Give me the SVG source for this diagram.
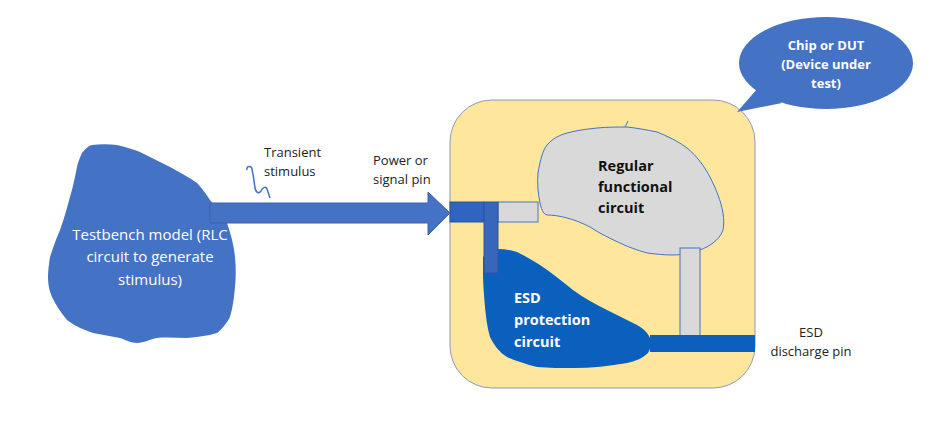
<svg xmlns="http://www.w3.org/2000/svg" width="949" height="432" viewBox="0 0 949 432">
<defs>
<style>
.lbl{font-family:"Open Sans","Liberation Sans",sans-serif;font-size:13px;fill:#222}
.blk{font-family:"Open Sans","Liberation Sans",sans-serif;font-size:14.5px;font-weight:bold;fill:#111}
.wt{font-family:"Open Sans","Liberation Sans",sans-serif;font-size:15px;fill:#fff;text-anchor:middle}
.wb{font-family:"Open Sans","Liberation Sans",sans-serif;font-size:14.5px;font-weight:bold;fill:#fff}
.wbc{font-family:"Open Sans","Liberation Sans",sans-serif;font-size:13px;font-weight:bold;fill:#fff;text-anchor:middle}
.pin{fill:#2f64c0;stroke:#2a55a0;stroke-width:1}
.gray{fill:#d9d9d9;stroke:#4472c4;stroke-width:1}
</style>
</defs>
<rect width="949" height="432" fill="#fff"/>

<g id="testbench">
<path d="M82,153 C85,149 88,146 92,145 C100,144 109,144 117,145 C125,147 133,149 140,152 C150,157 160,162 170,167 C179,172 189,177 197,183 C202,188 206,194 210,200 C216,207 222,215 227,223 C231,234 234,246 235,257 C236,267 236,277 235,287 C234,297 233,307 230,317 C227,323 222,329 217,333 C207,336 197,337 187,338 C177,338 167,337 157,338 C150,339 144,343 137,343 C131,343 126,340 120,338 C111,336 102,335 93,333 C84,330 75,326 67,320 C61,313 56,305 52,297 C49,290 48,284 48,277 C48,270 49,264 50,257 C53,248 56,239 60,230 C64,219 67,208 70,197 C73,187 75,177 77,167 C78,162 80,157 82,153 Z" fill="#4472c4"/>
<text class="wt" x="150" y="240">Testbench model (RLC</text>
<text class="wt" x="150" y="262">circuit to generate</text>
<text class="wt" x="150" y="285">stimulus)</text>
</g>

<g id="connectors">
<path d="M210,203 L428,203 L428,192 L450,213 L428,235 L428,223 L210,223 Z" fill="#4472c4" stroke="#3a62ab" stroke-width="1"/>
<path d="M247,170 C246,166 251,165 252,169 C253,174 254,180 255,188 C256,193 259,194 261,191 C263,187 266,186 267,189 C268,192 269,195 270,198" fill="none" stroke="#4472c4" stroke-width="1.5"/>
</g>

<g id="labels">
<text class="lbl" x="264" y="157">Transient</text>
<text class="lbl" x="264" y="176">stimulus</text>
<text class="lbl" x="373" y="165">Power or</text>
<text class="lbl" x="373" y="184">signal pin</text>
<text class="lbl" x="811" y="337" text-anchor="middle">ESD</text>
<text class="lbl" x="811" y="356" text-anchor="middle">discharge pin</text>
</g>

<g id="chip">
<rect x="450" y="100" width="305" height="288" rx="42" fill="#fee79d" stroke="#8a9ab8" stroke-width="1"/>
</g>

<g id="regular-circuit">
<path d="M540,203 C538,193 537,183 538,173 C540,160 543,150 547,145 C553,138 560,135 567,133 C578,130 588,129 597,128 C607,127 617,127 627,127 C637,128 647,130 657,132 C667,136 678,141 687,148 C697,156 704,166 710,177 C716,189 721,201 723,213 C724,219 724,225 723,230 C721,236 717,240 713,243 C709,246 705,248 700,250 C691,253 682,255 673,255 C664,255 655,254 647,253 C637,250 628,247 620,243 C609,238 599,233 590,227 C582,223 575,220 567,218 C560,216 553,215 547,215 C544,214 542,212 540,203 Z" class="gray"/>
<path d="M625,127 L628,121" fill="none" stroke="#4472c4" stroke-width="1"/>
<text class="blk" x="598" y="171">Regular</text>
<text class="blk" x="598" y="192">functional</text>
<text class="blk" x="598" y="213">circuit</text>
</g>

<g id="esd-circuit">
<path d="M483,257 C487,252 492,250 498,249 C505,249 511,250 517,252 C525,256 532,260 540,265 C552,273 562,281 573,290 C584,298 595,304 607,310 C617,315 627,320 637,325 C644,329 648,333 650,338 C652,343 651,348 648,353 C642,359 635,361 627,363 C610,366 591,368 573,368 C561,368 549,368 537,367 C526,364 516,361 507,357 C499,352 494,345 490,337 C487,327 486,317 485,307 C484,296 483,284 483,273 Z" fill="#0c60bd"/>
<text class="wb" x="514" y="303">ESD</text>
<text class="wb" x="514" y="325">protection</text>
<text class="wb" x="514" y="347">circuit</text>
</g>

<g id="pins">
<rect x="498" y="202" width="40" height="20" class="gray"/>
<rect x="450" y="202" width="34" height="20" class="pin"/>
<rect x="484" y="202" width="14" height="71" fill="#3766ba" stroke="#2a55a0" stroke-width="1"/>
<rect x="680" y="248" width="20" height="88" class="gray"/>
<rect x="650" y="335" width="105" height="17" fill="#0c60bd"/>
</g>

<g id="bubble">
<ellipse cx="826" cy="63" rx="87" ry="46" fill="#4472c4"/>
<polygon points="758,88 737,112 782,103" fill="#4472c4"/>
<text class="wbc" x="826" y="50">Chip or DUT</text>
<text class="wbc" x="826" y="69">(Device under</text>
<text class="wbc" x="826" y="88">test)</text>
</g>
</svg>
